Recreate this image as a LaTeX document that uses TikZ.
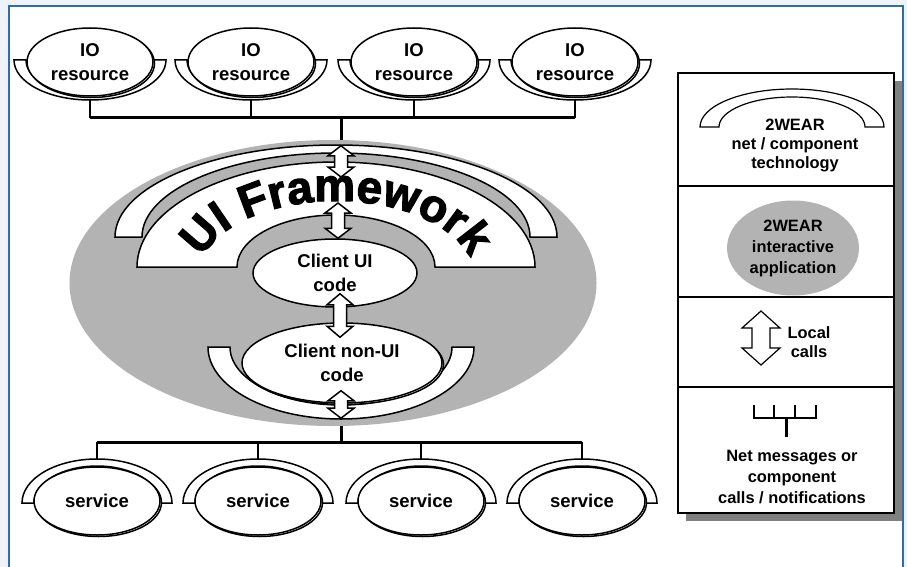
\documentclass[tikz,border=0pt]{standalone}
\usepackage{fontspec}
\setmainfont{Liberation Sans}
\newfontfamily\heavyfont{Liberation Sans}[BoldFeatures={FakeBold=2.5}]
\usetikzlibrary{shapes.geometric,shadows,calc,backgrounds,decorations.text}

\definecolor{pagebg}{RGB}{238,243,250}
\definecolor{framebl}{RGB}{46,110,165}
\definecolor{appgray}{RGB}{179,179,179}
\definecolor{shadegray}{RGB}{128,128,128}

\tikzset{
  outline/.style={draw=black, line width=1.5pt},
  cup/.style={outline, fill=white},
  blob/.style={ellipse, outline, fill=white, inner sep=0pt, align=center,
    font=\bfseries\fontsize{18.5}{24}\selectfont},
  resource/.style={blob, minimum width=126pt, minimum height=68pt,
    copy shadow={shadow xshift=1.5pt, shadow yshift=-1.5pt}},
  bus/.style={line width=3pt},
  drop/.style={line width=2pt},
  legendtext/.style={align=center, font=\bfseries\fontsize{16.4}{19}\selectfont},
  % hollow up/down arrow from the start point (top) to the target (bottom)
  twoway/.style n args={3}{outline, fill=white,
    to path={let \p1=(\tikztostart), \p2=(\tikztotarget) in
      -- (\x1+#1,\y1-#3) -- (\x1+#2,\y1-#3) -- (\x1+#2,\y2+#3) -- (\x1+#1,\y2+#3)
      -- (\x1,\y2) -- (\x1-#1,\y2+#3) -- (\x1-#2,\y2+#3) -- (\x1-#2,\y1-#3)
      -- (\x1-#1,\y1-#3) -- cycle}},
}

\begin{document}
\begin{tikzpicture}[x=1pt,y=-1pt]
\useasboundingbox (0,0) rectangle (907,567);
\begin{scope}[on background layer]
\fill[pagebg] (0,0) rectangle (907,567);
\draw[framebl, line width=1.5pt, fill=white] (9,6) rectangle (903,600);
\end{scope}

% IO resources on top
\foreach \n/\x in {1/90,2/251,3/414,4/575} {
  \draw[cup] (\x-76,60) arc[start angle=180,end angle=0,x radius=76,y radius=40]
    -- ++(-12,0) arc[start angle=0,end angle=180,x radius=64,y radius=35] -- cycle;
  \node[resource] (io\n) at (\x,62) {IO\\resource};
}

% the application
\node[ellipse, fill=appgray, minimum width=527pt, minimum height=286pt] (app) at (333,283) {};
\draw[cup] (115,237) arc[start angle=180,end angle=360,x radius=221,y radius=92]
  -- ++(-27,0) arc[start angle=360,end angle=180,x radius=194,y radius=84] -- cycle;
\draw[cup] (137,267) arc[start angle=180,end angle=360,x radius=199,y radius=105]
  -- (435,267) arc[start angle=360,end angle=180,x radius=99,y radius=52] -- cycle;
\path[decorate, decoration={text along path, text align=center,
  text={|\heavyfont\bfseries\fontsize{46}{46}\selectfont|UI Framework}}]
  (198,277) arc[start angle=180,end angle=360,x radius=138,y radius=76];

\node[blob, minimum width=164pt, minimum height=68pt] (ui) at (335,273) {Client UI\\code};
\draw[cup] (208,347) arc[start angle=180,end angle=0,x radius=133,y radius=72]
  -- ++(-22,0) arc[start angle=0,end angle=180,x radius=111,y radius=58] -- cycle;
\node[blob, minimum width=200pt, minimum height=80pt,
  copy shadow={shadow xshift=1.5pt, shadow yshift=-1.5pt}] (core) at (342,363) {Client non-UI\\code};

% services at the bottom
\foreach \n/\x in {1/97,2/258,3/421,4/582} {
  \draw[cup] (\x-75,503) arc[start angle=180,end angle=360,x radius=75,y radius=44]
    -- ++(-12,0) arc[start angle=360,end angle=180,x radius=63,y radius=37] -- cycle;
  \node[resource] (svc\n) at (\x,501) {service};
}

% buses
\coordinate (topbus) at (341,118);
\coordinate (lowbus) at (341,442);
\begin{scope}[on background layer]
\draw[bus] (io1.south |- topbus) -- (io4.south |- topbus);
\draw[bus] (topbus) -- (topbus |- app.north);
\draw[bus] (lowbus |- app.south) -- (lowbus);
\draw[bus] (svc1.north |- lowbus) -- (svc4.north |- lowbus);
\foreach \n in {1,...,4} {
  \draw[drop] (io\n.south) -- (io\n.south |- topbus);
  \draw[drop] (svc\n.north |- lowbus) -- (svc\n.north);
}
\end{scope}

% local calls
\draw[twoway={13pt}{6.5pt}{10pt}] ($(topbus |- app.north)+(0,6)$) to (340,177);
\draw[twoway={13pt}{6.5pt}{10pt}] (338,203) to (ui.north);
\draw[twoway={13pt}{6.5pt}{11pt}] ($(ui.south)+(5,-14)$) to ($(core.north)+(0,15)$);
\draw[twoway={13pt}{6.5pt}{10pt}] ($(core.south)+(-1,-13)$) to ($(lowbus |- app.south)+(0,-8)$);

% legend
\node[draw, line width=1.2pt, fill=white, minimum width=216pt, minimum height=440pt,
  drop shadow={shadow xshift=8pt, shadow yshift=-8pt, fill=shadegray, opacity=1}]
  (legend) at (786,293) {};
\foreach \y in {186,297,387}
  \draw[line width=1.2pt] (legend.west |- 0,\y) -- (legend.east |- 0,\y);
\draw[cup, line width=1.2pt] (700,127) arc[start angle=180,end angle=360,x radius=92,y radius=38]
  -- (865,127) arc[start angle=360,end angle=180,x radius=73,y radius=30] -- cycle;
\node[legendtext] (techlbl) at (795,146) {2WEAR\\net / component\\technology};
\node[ellipse, fill=appgray, minimum width=132pt, minimum height=95pt, inner sep=0pt,
  legendtext, font=\bfseries\fontsize{16.4}{21}\selectfont] (applbl) at (793,248)
  {2WEAR\\interactive\\application};
\coordinate (lcup) at (761,311);
\coordinate (lcdown) at (761,365);
\draw[twoway={19pt}{9pt}{17pt}, line width=1.2pt] (lcup) to (lcdown);
\node[legendtext] (calllbl) at (809,342) {Local\\calls};
\draw[line width=2pt] (754,405) |- (816,418) -- (816,405);
\draw[line width=2pt] (774,405) -- (774,418) (795,405) -- (795,418);
\draw[line width=3pt] (786,418) -- (786,437);
\node[legendtext, font=\bfseries\fontsize{16.4}{21}\selectfont] (netlbl) at (792,477)
  {Net messages or\\component\\calls / notifications};
\end{tikzpicture}
\end{document}
